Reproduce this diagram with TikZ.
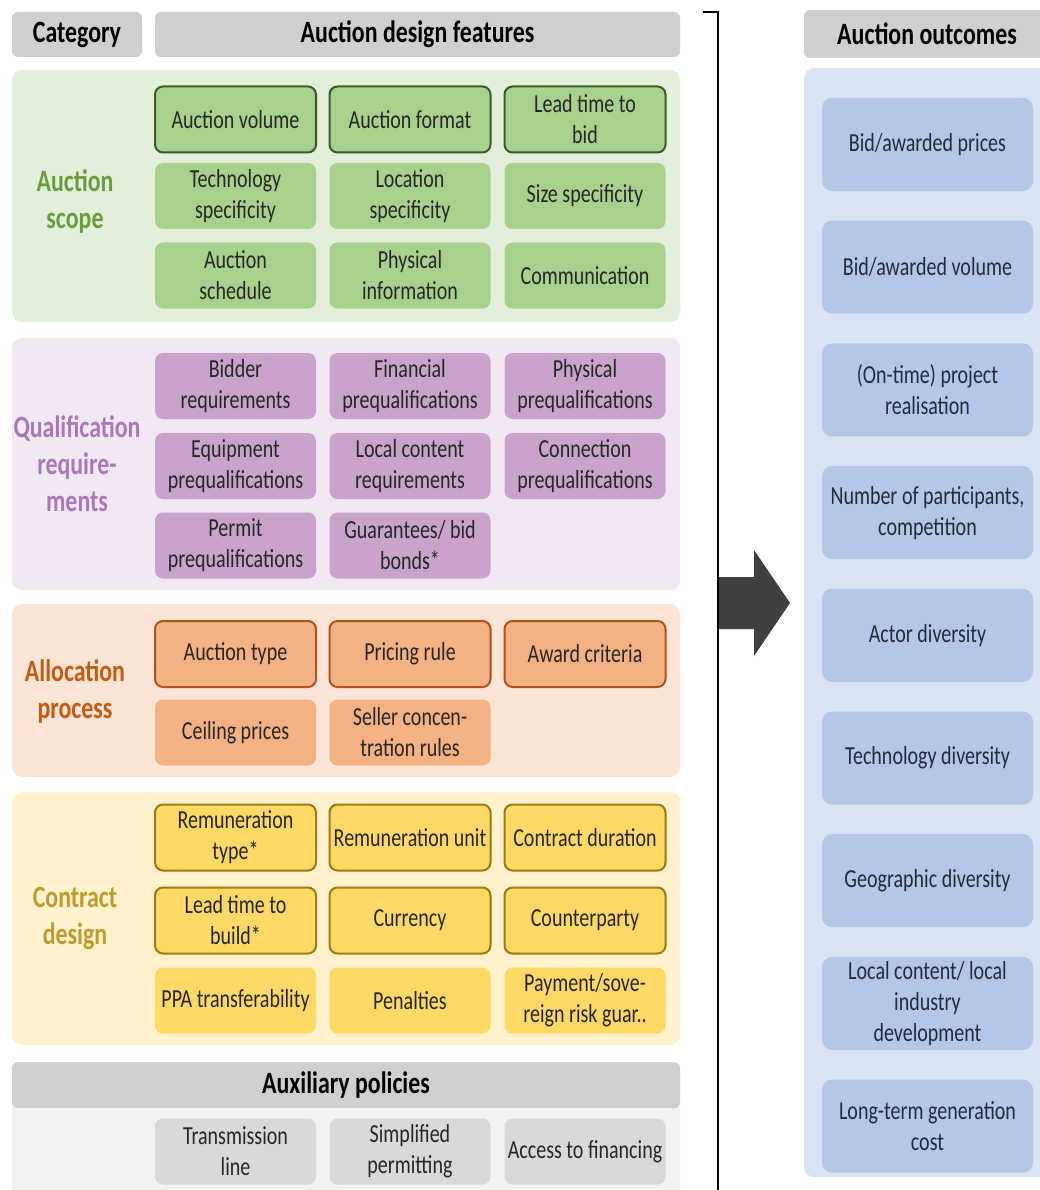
\documentclass[tikz,border=0pt]{standalone}
\usepackage{fontspec}
\setmainfont{Carlito}[FakeStretch=0.77]
\definecolor{hdr}{HTML}{D0CECE}
\definecolor{txt}{HTML}{262626}
\definecolor{scopeBg}{HTML}{E2EFDA}
\definecolor{scopeBox}{HTML}{A9D18E}
\definecolor{scopeEdge}{HTML}{3A5A26}
\definecolor{scopeLbl}{HTML}{6A9C3E}
\definecolor{qualBg}{HTML}{F2E8F3}
\definecolor{qualBox}{HTML}{C9A3CC}
\definecolor{qualLbl}{HTML}{A878B8}
\definecolor{allocBg}{HTML}{FBE5D6}
\definecolor{allocBox}{HTML}{F4B183}
\definecolor{allocEdge}{HTML}{B0531A}
\definecolor{allocLbl}{HTML}{C55A11}
\definecolor{contrBg}{HTML}{FFF2CC}
\definecolor{contrBox}{HTML}{FFD966}
\definecolor{contrEdge}{HTML}{9C7A10}
\definecolor{contrLbl}{HTML}{BF9A2E}
\definecolor{auxBg}{HTML}{F2F2F2}
\definecolor{auxBox}{HTML}{D9D9D9}
\definecolor{outBg}{HTML}{DAE3F3}
\definecolor{outBox}{HTML}{B4C7E7}
\definecolor{outTxt}{HTML}{222B3A}
\definecolor{arrowFill}{HTML}{404040}
\begin{document}
\begin{tikzpicture}[x=1pt,y=-1pt,
  bodyfont/.style={font=\fontsize{26}{31}\selectfont},
  headfont/.style={font=\bfseries\fontsize{31}{37}\selectfont},
  panel/.style={rounded corners=10pt, draw=none},
  feat/.style={bodyfont, rounded corners=8pt, minimum width=161pt, minimum height=66pt,
    align=center, inner sep=0pt, text=txt},
  scopebox/.style={feat, fill=scopeBox},
  qualbox/.style={feat, fill=qualBox},
  allocbox/.style={feat, fill=allocBox},
  contrbox/.style={feat, fill=contrBox},
  auxbox/.style={feat, fill=auxBox},
  edged/.style={draw, line width=2pt},
  catlabel/.style={headfont, align=center, inner sep=0pt},
  header/.style={headfont, fill=hdr, rounded corners=6pt, inner sep=0pt, text=black},
  outbox/.style={bodyfont, fill=outBox, rounded corners=10pt, minimum width=211pt,
    minimum height=93pt, align=center, inner sep=0pt, text=outTxt}
]
\clip (0,0) rectangle (1040,1190);
\useasboundingbox (0,0) rectangle (1040,1190);
\fill[white] (0,0) rectangle (1040,1190);

% column headers
\node[header, minimum width=130pt, minimum height=45pt] (hcat) at (77,34.5) {Category};
\node[header, minimum width=525pt, minimum height=45pt] (hfeat) at (417.5,34.5) {Auction design features};
\node[header, minimum width=246pt, minimum height=48pt] (hout) at (927,34) {Auction outcomes};

% category panels
\fill[panel, scopeBg] (12,70) rectangle (680,322);
\fill[panel, qualBg] (12,338) rectangle (680,590);
\fill[panel, allocBg] (12,604) rectangle (680,777);
\fill[panel, contrBg] (12,792) rectangle (680,1045);
\fill[panel, auxBg] (12,1100) rectangle (680,1210);
\node[header, minimum width=668pt, minimum height=46pt] (haux) at (346,1085) {Auxiliary policies};

% category labels
\node[catlabel, text=scopeLbl] (lscope) at (75,202) {Auction\\scope};
\node[catlabel, text=qualLbl] (lqual) at (77,464) {Qualification\\require-\\ments};
\node[catlabel, text=allocLbl] (lalloc) at (75,692) {Allocation\\process};
\node[catlabel, text=contrLbl] (lcontr) at (75,918) {Contract\\design};

% auction scope
\node[scopebox, edged, draw=scopeEdge] (s11) at (235.5,119.5) {Auction volume};
\node[scopebox, edged, draw=scopeEdge] (s12) at (410,119.5) {Auction format};
\node[scopebox, edged, draw=scopeEdge] (s13) at (585,119.5) {Lead time to\\bid};
\node[scopebox] (s21) at (235.5,196) {Technology\\specificity};
\node[scopebox] (s22) at (410,196) {Location\\specificity};
\node[scopebox] (s23) at (585,196) {Size specificity};
\node[scopebox] (s31) at (235.5,275.5) {Auction\\schedule};
\node[scopebox] (s32) at (410,275.5) {Physical\\information};
\node[scopebox] (s33) at (585,275.5) {Communication};

% qualification requirements
\node[qualbox] (q11) at (235.5,386) {Bidder\\requirements};
\node[qualbox] (q12) at (410,386) {Financial\\prequalifications};
\node[qualbox] (q13) at (585,386) {Physical\\prequalifications};
\node[qualbox] (q21) at (235.5,466) {Equipment\\prequalifications};
\node[qualbox] (q22) at (410,466) {Local content\\requirements};
\node[qualbox] (q23) at (585,466) {Connection\\prequalifications};
\node[qualbox] (q31) at (235.5,545.5) {Permit\\prequalifications};
\node[qualbox] (q32) at (410,545.5) {Guarantees/ bid\\bonds*};

% allocation process
\node[allocbox, edged, draw=allocEdge] (a11) at (235.5,654) {Auction type};
\node[allocbox, edged, draw=allocEdge] (a12) at (410,654) {Pricing rule};
\node[allocbox, edged, draw=allocEdge] (a13) at (585,654) {Award criteria};
\node[allocbox] (a21) at (235.5,732.5) {Ceiling prices};
\node[allocbox] (a22) at (410,732.5) {Seller concen-\\tration rules};

% contract design
\node[contrbox, edged, draw=contrEdge] (c11) at (235.5,837.5) {Remuneration\\type*};
\node[contrbox, edged, draw=contrEdge] (c12) at (410,837.5) {Remuneration unit};
\node[contrbox, edged, draw=contrEdge] (c13) at (585,837.5) {Contract duration};
\node[contrbox, edged, draw=contrEdge] (c21) at (235.5,920.5) {Lead time to\\build*};
\node[contrbox, edged, draw=contrEdge] (c22) at (410,920.5) {Currency};
\node[contrbox, edged, draw=contrEdge] (c23) at (585,920.5) {Counterparty};
\node[contrbox] (c31) at (235.5,1000.5) {PPA transferability};
\node[contrbox] (c32) at (410,1000.5) {Penalties};
\node[contrbox] (c33) at (585,1000.5) {Payment/sove-\\reign risk guar..};

% auxiliary policies
\node[auxbox] (x1) at (235.5,1151.5) {Transmission\\line};
\node[auxbox] (x2) at (410,1151.5) {Simplified\\permitting};
\node[auxbox] (x3) at (585,1151.5) {Access to financing};

% bracket and arrow
\coordinate (btick) at (703,12);
\coordinate (btop) at (718,12);
\coordinate (bbot) at (718,1195);
\draw[line width=2pt, black] (btick) -- (btop) -- (bbot);
\fill[arrowFill] (719,577) -- (754,577) -- (754,550) -- (790,603) -- (754,656)
  -- (754,629) -- (719,629) -- cycle;

% outcomes
\fill[panel, outBg] (804,68) rectangle (1050,1177);
\foreach \i/\t in {0/{Bid/awarded prices},
                   1/{Bid/awarded volume},
                   2/{(On-time) project\\realisation},
                   3/{Number of participants,\\competition},
                   4/{Actor diversity},
                   5/{Technology diversity},
                   6/{Geographic diversity},
                   7/{Local content/ local\\industry\\development},
                   8/{Long-term generation\\cost}}
  \node[outbox] (o\i) at (927.5,144.5+122.7*\i) {\t};
\end{tikzpicture}
\end{document}
